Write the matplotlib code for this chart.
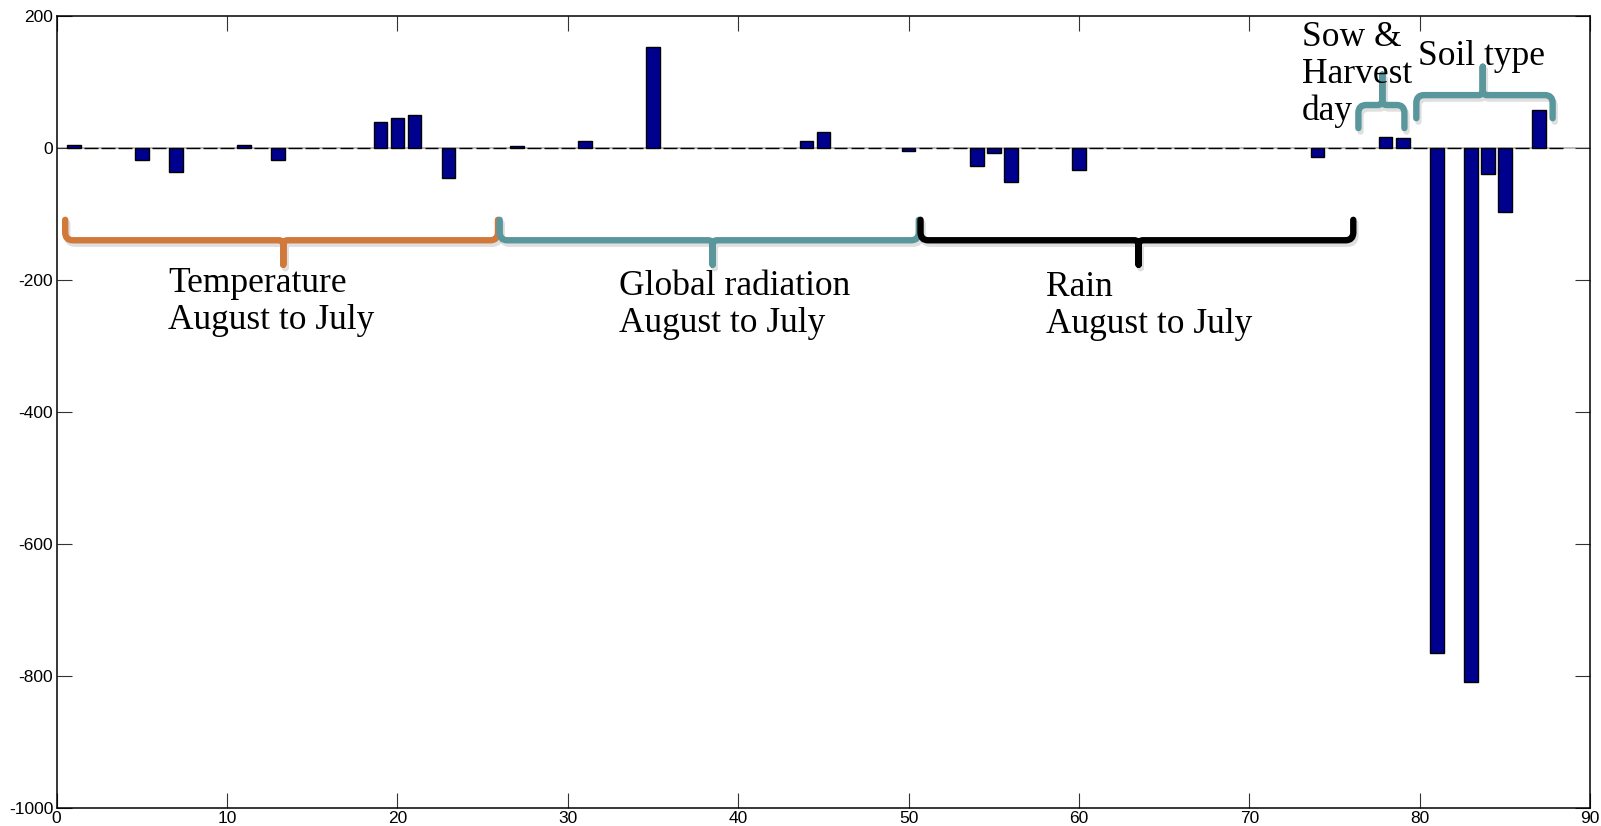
import matplotlib.pyplot as plt
import matplotlib.patheffects as pe
from matplotlib.path import Path
from matplotlib.patches import PathPatch
import numpy as np

# bar heights for variables 1..88
values = [
    4, 0, 0, 0, -18, 0, -36, 0, 0, 0, 5, 0, -18, 0, 0, 0, 0, 0, 39, 45,
    50, 0, -45, 0, 0, 0, 3, 0, 0, 0, 11, 0, 0, 0, 153, 0, 0, 0, 0, 0,
    0, 0, 0, 11, 24, 0, 0, 0, 0, -5, 0, 0, 0, -27, -8, -51, 0, 0, 0, -34,
    0, 0, 0, 0, 0, 0, 0, 0, 0, 0, 0, 0, 0, -14, 0, 0, 0, 17, 15, 0,
    -765, 0, -810, -39, -97, 0, 58, 0,
]
positions = np.arange(1, len(values) + 1)

xticks = [0, 10, 20, 30, 40, 50, 60, 70, 80, 90]
yticks = [-1000, -800, -600, -400, -200, 0, 200]

# group annotations: text lines, brace (x0, x1, tip, ends, bar, tip y), colour
groups = [
    (["Temperature", "August to July"], 6.54, -218, (0.5, 25.9, 13.3, -109, -140, -177), "#d0793b"),
    (["Global radiation", "August to July"], 33.0, -223, (26.0, 50.6, 38.5, -109, -140, -177), "#5a979c"),
    (["Rain", "August to July"], 58.06, -225, (50.7, 76.1, 63.5, -109, -140, -177), "black"),
    (["Sow &", "Harvest", "day"], 73.07, 155, (76.4, 79.1, 77.8, 30, 65, 111), "#5a979c"),
    (["Soil type"], 79.9, 126, (79.8, 87.8, 83.7, 45, 80, 123), "#5a979c"),
]

plt.rcParams["axes.unicode_minus"] = False

fig = plt.figure(figsize=(16.01, 8.26), dpi=100)
ax = fig.add_axes([0.0354, 0.0222, 0.9578, 0.9585])

ax.axhline(0, color="#b0b0b0", lw=1.2, zorder=1)
ax.bar(positions, values, width=0.8, color="#00008f", edgecolor="black", linewidth=1.0, zorder=2)

ax.set_xlim(0, 90)
ax.set_ylim(-1000, 200)
ax.set_xticks(xticks)
ax.set_yticks(yticks)
ax.tick_params(direction="in", length=11, width=0.8, top=True, right=True,
               labelsize=12.5, pad=2.5, color="#333333")
for lab in ax.get_xticklabels() + ax.get_yticklabels():
    lab.set_family("Liberation Sans")
for sp in ax.spines.values():
    sp.set_linewidth(1.1)


def brace(x0, x1, xt, yend, yh, ytip, color):
    s = 1 if yend > yh else -1
    rx, ry = 0.45, 12
    rxt, ryt = 0.25, 8
    verts, codes = [], []
    for xe, d in ((x0, 1), (x1, -1)):
        verts += [(xe, yend), (xe, yh + s * ry), (xe, yh), (xe + d * rx, yh),
                  (xt - d * rxt, yh), (xt, yh), (xt, yh - s * ryt), (xt, ytip)]
        codes += [Path.MOVETO, Path.LINETO, Path.CURVE3, Path.CURVE3,
                  Path.LINETO, Path.CURVE3, Path.CURVE3, Path.LINETO]
    patch = PathPatch(Path(verts, codes), fill=False, edgecolor=color, lw=4.6,
                      capstyle="round", joinstyle="round", zorder=4)
    patch.set_path_effects([pe.SimpleLineShadow(offset=(1.5, -2.5), shadow_color="gray", alpha=0.25),
                            pe.Normal()])
    ax.add_patch(patch)


step = 56  # data units between text lines (~37 px)
for lines, tx, ty, b, col in groups:
    brace(*b, col)
    for i, line in enumerate(lines):
        ax.text(tx, ty - i * step, line, family="Liberation Serif", fontsize=25.5,
                ha="left", va="baseline", color="black", zorder=5)

plt.savefig("out.png", dpi=100)
